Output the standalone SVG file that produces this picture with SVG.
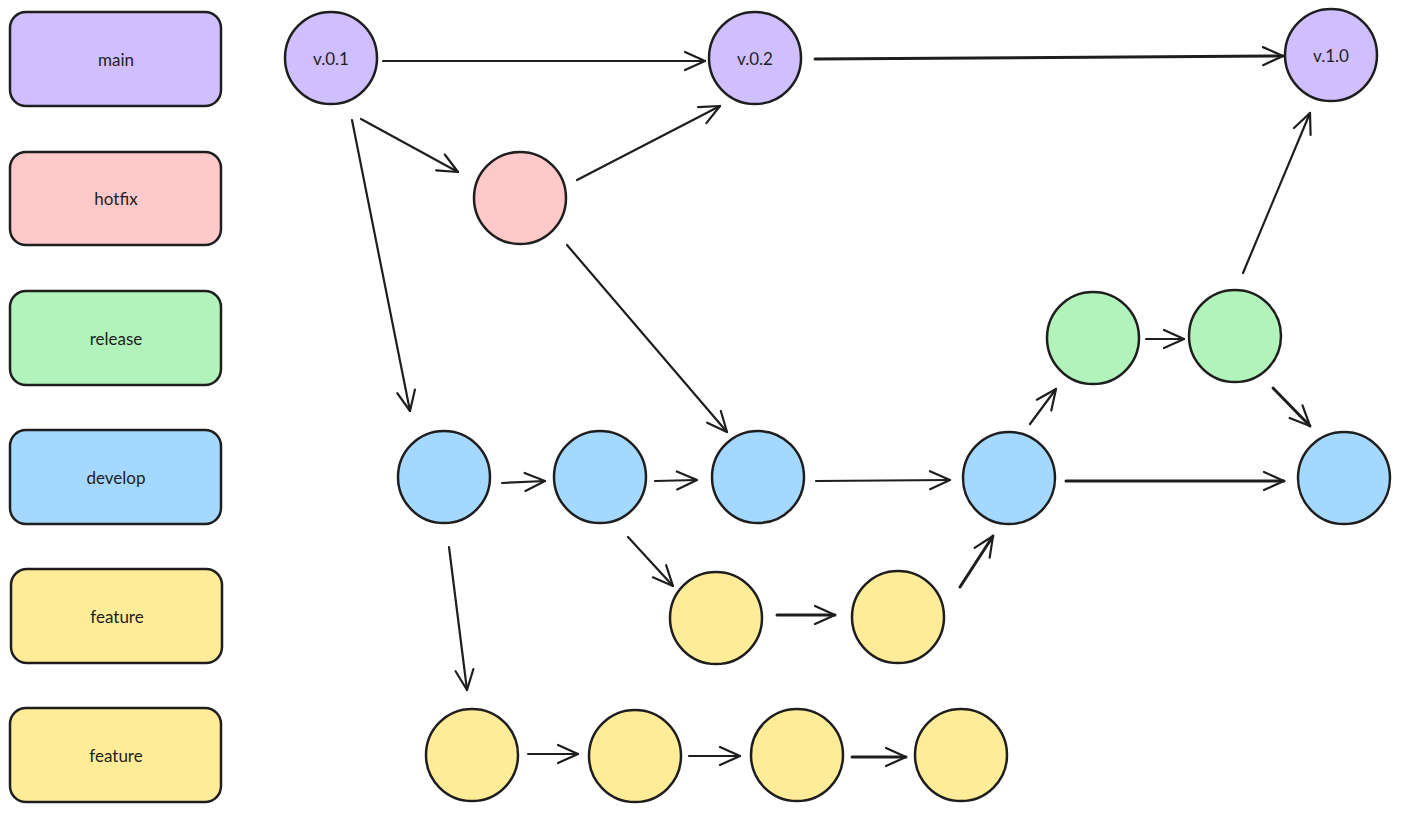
<svg xmlns="http://www.w3.org/2000/svg" width="1401" height="813" viewBox="0 0 1401 813">
<style>
.lg{stroke:#1e1e1e;stroke-width:2.5}
.n{stroke:#1e1e1e;stroke-width:2.5}
.t{font-family:"Lato","Liberation Sans",sans-serif;font-size:17px;fill:#1e1e1e;text-anchor:middle;dominant-baseline:central}
.main{fill:#d0bfff}.hot{fill:#ffc9c9}.rel{fill:#b2f2bb}.dev{fill:#a5d8ff}.feat{fill:#ffec99}
#connectors line{stroke:#1e1e1e;stroke-width:2.2;fill:none;stroke-linecap:round;marker-end:url(#ah)}
#connectors line.thick{stroke-width:3}
</style>
<defs>
<marker id="ah" markerUnits="userSpaceOnUse" markerWidth="30" markerHeight="30" refX="22" refY="11" orient="auto">
<path d="M2,2 L22,11 L2,20" fill="none" stroke="#1e1e1e" stroke-width="2.2" stroke-linecap="round" stroke-linejoin="round"/>
</marker>
</defs>
<rect width="1401" height="813" fill="#ffffff"/>
<g id="legend-main"><rect class="lg main" x="10" y="12" width="211" height="94" rx="16"/><text class="t" x="116" y="59">main</text></g>
<g id="legend-hotfix"><rect class="lg hot" x="10" y="152" width="211" height="93" rx="16"/><text class="t" x="116" y="198">hotfix</text></g>
<g id="legend-release"><rect class="lg rel" x="10" y="291" width="211" height="94" rx="16"/><text class="t" x="116" y="338">release</text></g>
<g id="legend-develop"><rect class="lg dev" x="10" y="430" width="211" height="94" rx="16"/><text class="t" x="116" y="477">develop</text></g>
<g id="legend-feature1"><rect class="lg feat" x="11" y="569" width="211" height="94" rx="16"/><text class="t" x="117" y="616">feature</text></g>
<g id="legend-feature2"><rect class="lg feat" x="10" y="708" width="211" height="94" rx="16"/><text class="t" x="116" y="755">feature</text></g>

<g id="v01"><circle class="n main" cx="331" cy="58" r="46"/><text class="t" x="331" y="58">v.0.1</text></g>
<g id="v02"><circle class="n main" cx="755" cy="58" r="46"/><text class="t" x="755" y="58">v.0.2</text></g>
<g id="v10"><circle class="n main" cx="1331" cy="55" r="46"/><text class="t" x="1331" y="55">v.1.0</text></g>
<g id="hotfix1"><circle class="n hot" cx="520" cy="198" r="46"/></g>
<g id="release1"><circle class="n rel" cx="1093" cy="338" r="46"/></g>
<g id="release2"><circle class="n rel" cx="1235" cy="336" r="46"/></g>
<g id="develop1"><circle class="n dev" cx="444" cy="477" r="46"/></g>
<g id="develop2"><circle class="n dev" cx="600" cy="477" r="46"/></g>
<g id="develop3"><circle class="n dev" cx="758" cy="477" r="46"/></g>
<g id="develop4"><circle class="n dev" cx="1009" cy="478" r="46"/></g>
<g id="develop5"><circle class="n dev" cx="1344" cy="478" r="46"/></g>
<g id="featureA1"><circle class="n feat" cx="716" cy="618" r="46"/></g>
<g id="featureA2"><circle class="n feat" cx="898" cy="617" r="46"/></g>
<g id="featureB1"><circle class="n feat" cx="472" cy="755" r="46"/></g>
<g id="featureB2"><circle class="n feat" cx="635" cy="756" r="46"/></g>
<g id="featureB3"><circle class="n feat" cx="797" cy="755" r="46"/></g>
<g id="featureB4"><circle class="n feat" cx="961" cy="755" r="46"/></g>

<g id="connectors">
<line x1="383" y1="61" x2="705" y2="61"/>
<line class="thick" x1="815" y1="59" x2="1283" y2="56"/>
<line x1="361" y1="119" x2="458" y2="172"/>
<line x1="577" y1="180" x2="720" y2="106"/>
<line x1="352" y1="120" x2="410" y2="411"/>
<line x1="567" y1="245" x2="727" y2="432"/>
<line x1="502" y1="483" x2="545" y2="481"/>
<line x1="655" y1="481" x2="697" y2="480"/>
<line x1="816" y1="481" x2="950" y2="480"/>
<line x1="1030" y1="424" x2="1056" y2="389"/>
<line x1="1146" y1="339" x2="1184" y2="339"/>
<line class="thick" x1="1273" y1="388" x2="1310" y2="426"/>
<line class="thick" x1="1066" y1="481" x2="1284" y2="481"/>
<line x1="1243" y1="273" x2="1310" y2="113"/>
<line x1="628" y1="537" x2="673" y2="586"/>
<line class="thick" x1="777" y1="615" x2="835" y2="615"/>
<line class="thick" x1="960" y1="587" x2="993" y2="536"/>
<line x1="449" y1="547" x2="467" y2="690"/>
<line x1="528" y1="754" x2="578" y2="754"/>
<line x1="689" y1="756" x2="740" y2="756"/>
<line class="thick" x1="852" y1="757" x2="906" y2="757"/>
</g>
</svg>
